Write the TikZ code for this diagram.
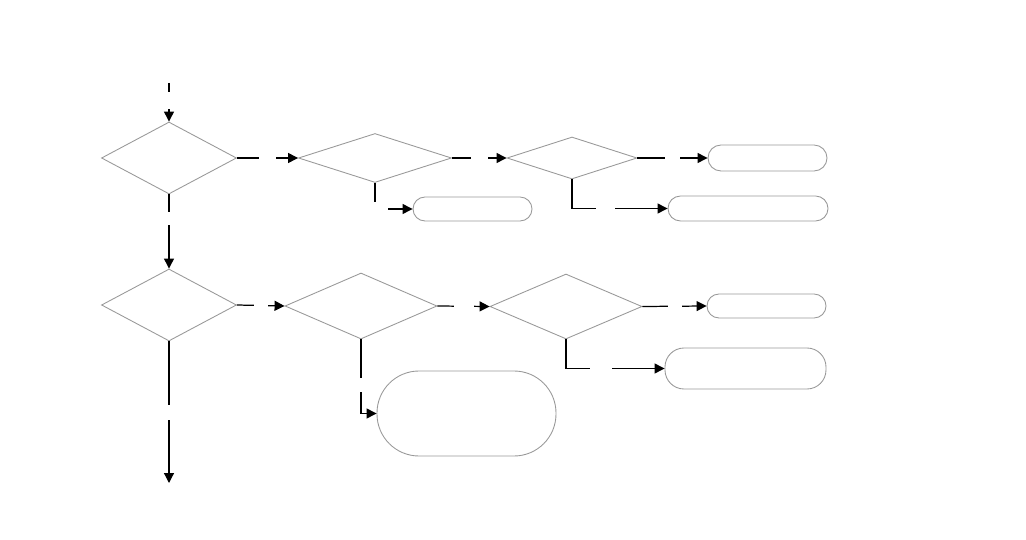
\documentclass[tikz,border=0pt]{standalone}
\usepackage{tikz}
\usetikzlibrary{arrows.meta,positioning,shapes.geometric}

\begin{document}
\begin{tikzpicture}[
  decision/.style={draw=gray!80,diamond,inner sep=0pt,line width=0.5pt},
  box/.style={draw=gray!80,rectangle,inner sep=0pt,line width=0.5pt},
  flow/.style={-{Triangle[length=2mm,width=2mm]},line width=0.7pt},
  gap/.style={fill=white,inner sep=0pt,minimum size=3.4mm}
]
\useasboundingbox (0,0) rectangle (20.52,-10.8);
% upper row
\node[decision,minimum width=27mm,minimum height=14.4mm] (d1) at (3.38,-3.16) {};
\node[decision,minimum width=30.6mm,minimum height=9.8mm] (d2) at (7.5,-3.16) {};
\node[decision,minimum width=26mm,minimum height=8.4mm] (d3) at (11.44,-3.16) {};
\node[box,rounded corners=2.6mm,minimum width=23.8mm,minimum height=5.2mm] (r2) at (15.35,-3.16) {};
\node[box,rounded corners=2.4mm,minimum width=23.8mm,minimum height=4.8mm] (r1) at (9.45,-4.18) {};
\node[box,rounded corners=2.5mm,minimum width=32mm,minimum height=5mm] (r3) at (14.96,-4.17) {};
% lower row
\node[decision,minimum width=27mm,minimum height=14.4mm] (d4) at (3.38,-6.1) {};
\node[decision,minimum width=30.4mm,minimum height=13.2mm] (d5) at (7.22,-6.12) {};
\node[decision,minimum width=30.4mm,minimum height=13mm] (d6) at (11.32,-6.13) {};
\node[box,rounded corners=2.4mm,minimum width=23.8mm,minimum height=4.8mm] (r5) at (15.33,-6.12) {};
\node[box,rounded corners=3.8mm,minimum width=32.2mm,minimum height=8.2mm] (r6) at (14.91,-7.37) {};
\node[box,rounded corners=8.4mm,minimum width=35.8mm,minimum height=17mm] (r4) at (9.33,-8.27) {};
\coordinate (start) at (3.38,-1.66);
\coordinate (stop) at (3.38,-9.66);
% connectors
\draw[flow] (start) -- node[gap,pos=0.45]{} (d1.north);
\draw[flow] (d1.east) -- node[gap]{} (d2.west);
\draw[flow] (d2.east) -- node[gap]{} (d3.west);
\draw[flow] (d3.east) -- node[gap,minimum size=3mm]{} (r2.west);
\draw[flow] (d2.south) |- node[gap,minimum width=5.2mm,minimum height=2.8mm]{} (r1.west);
\draw[flow] (d3.south) |- node[gap,pos=0.675,minimum width=3.8mm]{} (r3.west);
\draw[flow] (d1.south) -- node[gap,pos=0.33,minimum height=2.6mm]{} (d4.north);
\draw[flow] (d4.east) -- node[gap,minimum size=2.8mm]{} (d5.west);
\draw[flow] (d5.east) -- node[gap,minimum size=4mm]{} (d6.west);
\draw[flow] (d6.east) -- node[gap,minimum size=2.8mm]{} (r5.west);
\draw[flow] (d5.south) |- node[gap,pos=0.31,minimum height=2.8mm]{} (r4.west);
\draw[flow] (d6.south) |- node[gap,pos=0.677,minimum width=4.4mm]{} (r6.west);
\draw[flow] (d4.south) -- node[gap,minimum height=3mm]{} (stop);
\end{tikzpicture}
\end{document}
